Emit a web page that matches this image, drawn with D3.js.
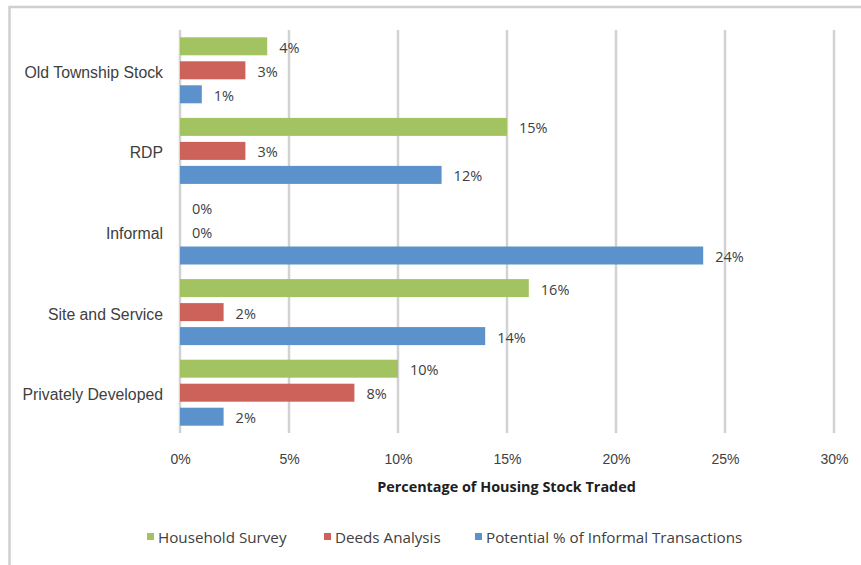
<!DOCTYPE html>
<html>
<head>
<meta charset="utf-8">
<script src="https://cdn.jsdelivr.net/npm/d3@7"></script>
<style>
  html, body { margin: 0; padding: 0; background: #fff; }
  svg { display: block; font-family: "Open Sans", "Lato", sans-serif; }
</style>
</head>
<body>
<svg id="chart" width="861" height="565"></svg>
<script>
// Housing types, top to bottom
const categories = ["Old Township Stock", "RDP", "Informal", "Site and Service", "Privately Developed"];
const seriesNames = ["Household Survey", "Deeds Analysis", "Potential % of Informal Transactions"];
const householdSurvey = [4, 15, 0, 16, 10];
const deedsAnalysis = [3, 3, 0, 2, 8];
const informalPotential = [1, 12, 24, 14, 2];
const xTicks = [0, 5, 10, 15, 20, 25, 30];
const seriesColors = ["#a3c262", "#cd625b", "#5b92cb"];

const seriesValues = [householdSurvey, deedsAnalysis, informalPotential];
const rows = categories.map((c, i) => ({
  category: c,
  values: seriesNames.map((s, j) => ({ series: s, value: seriesValues[j][i], color: seriesColors[j] }))
}));

const svg = d3.select("#chart");
const textColor = "#404040";

// outer frame (left and top edges only)
svg.append("path")
  .attr("d", "M9.5,565 L9.5,7 L861,7")
  .attr("fill", "none")
  .attr("stroke", "#cfcfcf")
  .attr("stroke-width", 2.5);

const plot = { left: 180, right: 834, top: 30, bottom: 433 };

const x = d3.scaleLinear().domain([0, 30]).range([plot.left, plot.right]);
const y = d3.scaleBand().domain(categories).range([plot.top, plot.bottom]).padding(0);
const inner = d3.scaleBand().domain(seriesNames)
  .range([7.3, y.bandwidth() - 7.3]).paddingInner(0.25).paddingOuter(0);

// vertical gridlines
svg.append("g").selectAll("line").data(xTicks).join("line")
  .attr("x1", d => x(d)).attr("x2", d => x(d))
  .attr("y1", plot.top).attr("y2", plot.bottom)
  .attr("stroke", "#d2d2d2").attr("stroke-width", 2.5);

// x axis tick labels
const xAxis = d3.axisBottom(x).tickValues(xTicks).tickFormat(d => d + "%").tickSize(0).tickPadding(0);
const gx = svg.append("g").attr("transform", `translate(0,${plot.bottom + 31})`).call(xAxis);
gx.select(".domain").remove();
gx.selectAll("text").attr("fill", textColor).attr("font-size", 14).attr("dy", 0);

// category labels
const yAxis = d3.axisLeft(y).tickSize(0).tickPadding(0);
const gy = svg.append("g").attr("transform", `translate(${plot.left - 17},2.5)`).call(yAxis);
gy.select(".domain").remove();
gy.selectAll("text").attr("fill", textColor).attr("font-size", 15.8);

// bars and value labels
const groups = svg.append("g").selectAll("g").data(rows).join("g")
  .attr("transform", d => `translate(0,${y(d.category)})`);

groups.selectAll("rect").data(d => d.values).join("rect")
  .attr("x", x(0))
  .attr("y", d => inner(d.series))
  .attr("width", d => x(d.value) - x(0))
  .attr("height", inner.bandwidth())
  .attr("fill", d => d.color);

groups.selectAll("text").data(d => d.values).join("text")
  .attr("x", d => x(d.value) + 12)
  .attr("y", d => inner(d.series) + inner.bandwidth() / 2)
  .attr("dy", "0.45em")
  .attr("fill", textColor)
  .attr("font-size", 14.5)
  .text(d => d.value + "%");

// axis title
svg.append("text")
  .attr("x", 506.5)
  .attr("y", 492)
  .attr("text-anchor", "middle")
  .attr("font-weight", "bold")
  .attr("font-size", 14.4)
  .attr("fill", "#202020")
  .text("Percentage of Housing Stock Traded");

// legend
const legendX = [147, 324, 475];
const legend = svg.append("g").selectAll("g").data(seriesNames).join("g")
  .attr("transform", (d, i) => `translate(${legendX[i]},537)`);
legend.append("rect").attr("x", 0).attr("y", -4).attr("width", 7).attr("height", 7)
  .attr("fill", (d, i) => seriesColors[i]);
legend.append("text").attr("x", 11).attr("y", 0).attr("dy", "0.38em")
  .attr("font-size", 15.2).attr("fill", textColor).text(d => d);
</script>
</body>
</html>
